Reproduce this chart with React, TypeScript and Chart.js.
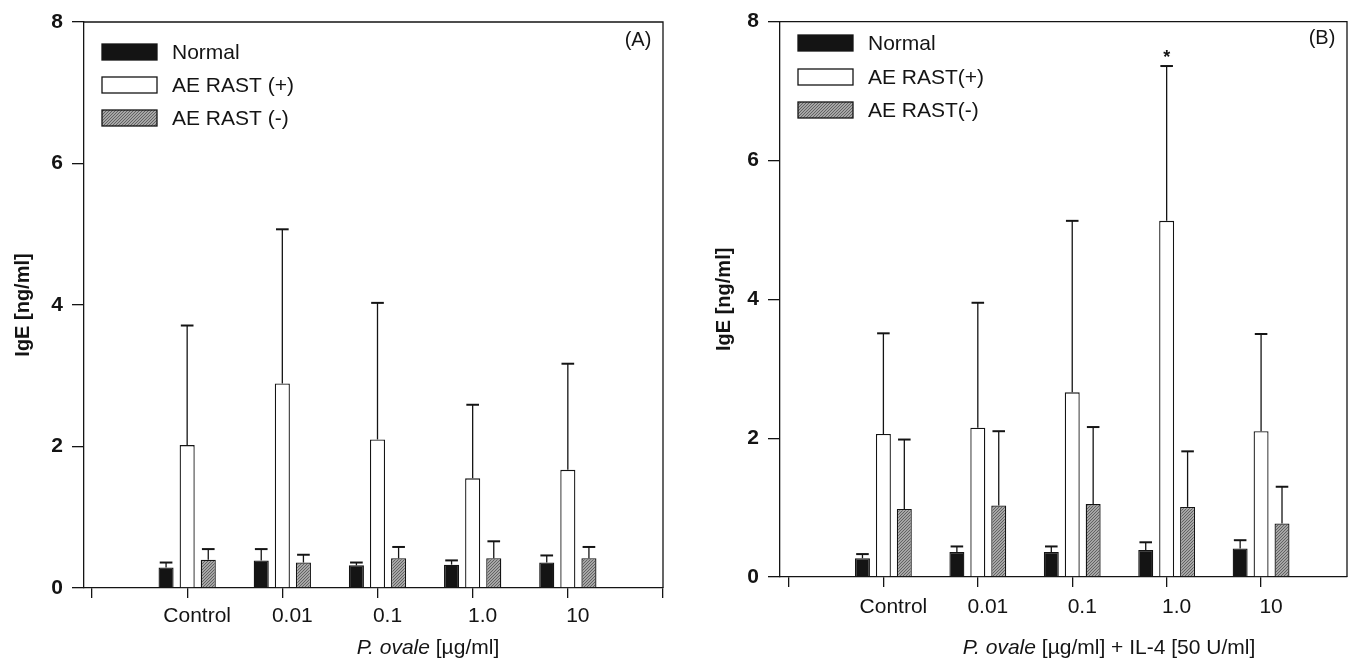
import React, { useEffect, useRef } from "react";
import { Chart, registerables } from "chart.js";

Chart.register(...registerables);

// ---------- data ----------
const categories = ["Control", "0.01", "0.1", "1.0", "10"];
const seriesNamesA = ["Normal", "AE RAST (+)", "AE RAST (-)"];
const seriesNamesB = ["Normal", "AE RAST(+)", "AE RAST(-)"];
const yTickValues = [0, 2, 4, 6, 8];

// Panel A: P. ovale alone
const aNormal = [0.29, 0.39, 0.32, 0.33, 0.36];
const aNormalSD = [0.07, 0.16, 0.04, 0.06, 0.1];
const aRastPos = [2.02, 2.89, 2.1, 1.55, 1.67];
const aRastPosSD = [1.69, 2.18, 1.93, 1.04, 1.5];
const aRastNeg = [0.4, 0.36, 0.42, 0.42, 0.42];
const aRastNegSD = [0.15, 0.11, 0.16, 0.24, 0.16];

// Panel B: P. ovale + IL-4
const bNormal = [0.27, 0.36, 0.36, 0.39, 0.41];
const bNormalSD = [0.06, 0.08, 0.08, 0.11, 0.12];
const bRastPos = [2.06, 2.15, 2.66, 5.13, 2.1];
const bRastPosSD = [1.45, 1.8, 2.47, 2.23, 1.4];
const bRastNeg = [0.98, 1.03, 1.05, 1.01, 0.77];
const bRastNegSD = [1.0, 1.07, 1.11, 0.8, 0.53];

const INK = "#141414";
const FONT = "'Liberation Sans', Arial, Helvetica, sans-serif";

function makeHatch(): CanvasPattern | string {
  const c = document.createElement("canvas");
  c.width = 3;
  c.height = 3;
  const g = c.getContext("2d");
  if (!g) return "#8c8c8c";
  g.fillStyle = "#a6a6a6";
  g.fillRect(0, 0, 3, 3);
  g.fillStyle = "#626262";
  for (let x = 0; x < 3; x++) {
    for (let y = 0; y < 3; y++) {
      if ((x + y) % 3 === 0) g.fillRect(x, y, 1, 1);
    }
  }
  const pat = g.createPattern(c, "repeat");
  return pat || "#8c8c8c";
}

type PanelCfg = {
  width: number;
  height: number;
  areaLeft: number;
  areaRight: number;
  areaTop: number;
  areaBottom: number;
  xMin: number;
  xMax: number;
  xTicks: number[];
  yTitlePad: number;
  labelPad: number;
  names: string[];
  values: number[][];
  sds: number[][];
  legendX: number;
  legendTextX: number;
  legendRows: number[];
  letter: string;
  letterX: number;
  letterY: number;
  xTitleItalic: string;
  xTitleRest: string;
  xTitleX: number;
  xTitleY: number;
  star: { dataset: number; index: number } | null;
};

function Panel({ cfg, left }: { cfg: PanelCfg; left: number }) {
  const ref = useRef<HTMLCanvasElement | null>(null);

  useEffect(() => {
    const canvas = ref.current;
    if (!canvas) return;
    const hatch = makeHatch();
    const fills = [INK, "#ffffff", hatch];
    const tickLabel = (v: number) => {
      const i = Math.round(v) - 1;
      return i >= 0 && i < categories.length ? categories[i] : "";
    };

    const decor = {
      id: "panelDecor",
      afterDatasetsDraw(chart: any) {
        const ctx = chart.ctx as CanvasRenderingContext2D;
        const area = chart.chartArea;
        const yScale = chart.scales.y;
        ctx.save();
        // error bars (upper only)
        chart.data.datasets.forEach((ds: any, di: number) => {
          const meta = chart.getDatasetMeta(di);
          meta.data.forEach((bar: any, i: number) => {
            const p = bar.getProps(["x", "y", "width"], true);
            const top = yScale.getPixelForValue(ds.data[i].y + ds.errors[i]);
            ctx.strokeStyle = INK;
            ctx.lineWidth = 1.3;
            ctx.beginPath();
            ctx.moveTo(p.x, p.y);
            ctx.lineTo(p.x, top);
            ctx.stroke();
            ctx.lineWidth = 2;
            ctx.beginPath();
            ctx.moveTo(p.x - p.width * 0.42, top);
            ctx.lineTo(p.x + p.width * 0.42, top);
            ctx.stroke();
          });
        });
        // frame: top and right
        ctx.strokeStyle = INK;
        ctx.lineWidth = 1.3;
        ctx.beginPath();
        ctx.moveTo(area.left, area.top);
        ctx.lineTo(area.right, area.top);
        ctx.lineTo(area.right, area.bottom);
        ctx.stroke();
        // legend
        ctx.font = `21px ${FONT}`;
        ctx.textBaseline = "middle";
        ctx.textAlign = "left";
        chart.data.datasets.forEach((ds: any, di: number) => {
          const cy = cfg.legendRows[di];
          ctx.fillStyle = ds.backgroundColor;
          ctx.fillRect(cfg.legendX, cy - 8, 55, 16);
          ctx.lineWidth = 1.3;
          ctx.strokeStyle = INK;
          ctx.strokeRect(cfg.legendX, cy - 8, 55, 16);
          ctx.fillStyle = INK;
          ctx.fillText(ds.label, cfg.legendTextX, cy + 1);
        });
        // panel letter
        ctx.font = `20px ${FONT}`;
        ctx.textAlign = "center";
        ctx.fillText(cfg.letter, cfg.letterX, cfg.letterY);
        // significance star
        if (cfg.star) {
          const ds = chart.data.datasets[cfg.star.dataset];
          const bar = chart.getDatasetMeta(cfg.star.dataset).data[cfg.star.index];
          const v = ds.data[cfg.star.index].y + ds.errors[cfg.star.index];
          const yTop = yScale.getPixelForValue(v);
          ctx.font = `bold 18px ${FONT}`;
          ctx.fillText("*", bar.x, yTop - 8);
        }
        // x-axis title (italic species name + plain rest)
        ctx.textAlign = "left";
        const fI = `italic 21px ${FONT}`;
        const fN = `21px ${FONT}`;
        ctx.font = fI;
        const w1 = ctx.measureText(cfg.xTitleItalic).width;
        ctx.font = fN;
        const w2 = ctx.measureText(cfg.xTitleRest).width;
        const x0 = cfg.xTitleX - (w1 + w2) / 2;
        ctx.font = fI;
        ctx.fillText(cfg.xTitleItalic, x0, cfg.xTitleY);
        ctx.font = fN;
        ctx.fillText(cfg.xTitleRest, x0 + w1, cfg.xTitleY);
        ctx.restore();
      },
    };

    const chart = new Chart(canvas, {
      type: "bar",
      data: {
        datasets: cfg.names.map((name, si) => ({
          label: name,
          data: cfg.values[si].map((v, i) => ({ x: i + 1, y: v })),
          errors: cfg.sds[si],
          backgroundColor: fills[si],
          borderColor: INK,
          borderWidth: 1.3,
          categoryPercentage: 0.665,
          barPercentage: 0.715,
        })) as any,
      },
      options: {
        responsive: false,
        animation: false,
        devicePixelRatio: 1,
        layout: {
          padding: {
            left: 0,
            right: cfg.width - cfg.areaRight,
            top: cfg.areaTop,
            bottom: 0,
          },
        },
        plugins: {
          legend: { display: false },
          tooltip: { enabled: false },
        },
        scales: {
          x: {
            type: "linear",
            min: cfg.xMin,
            max: cfg.xMax,
            offset: false,
            afterBuildTicks: (s: any) => {
              s.ticks = cfg.xTicks.map((v) => ({ value: v }));
            },
            afterFit: (s: any) => {
              s.height = cfg.height - cfg.areaBottom;
            },
            grid: {
              drawOnChartArea: false,
              drawTicks: true,
              tickLength: 10,
              color: INK,
              lineWidth: 1.3,
              offset: false,
            },
            border: { display: true, color: INK, width: 1.3 },
            ticks: {
              callback: (v: any) => tickLabel(Number(v)),
              color: INK,
              font: { family: FONT, size: 21 },
              padding: cfg.labelPad,
              labelOffset: 10,
              maxRotation: 0,
              autoSkip: false,
            },
          },
          y: {
            type: "linear",
            min: 0,
            max: 8,
            afterBuildTicks: (s: any) => {
              s.ticks = yTickValues.map((v) => ({ value: v }));
            },
            afterFit: (s: any) => {
              s.width = cfg.areaLeft;
            },
            grid: {
              drawOnChartArea: false,
              drawTicks: true,
              tickLength: 12,
              color: INK,
              lineWidth: 1.3,
            },
            border: { display: true, color: INK, width: 1.3 },
            ticks: {
              color: INK,
              font: { family: FONT, size: 21, weight: "bold" },
              padding: 9,
            },
            title: {
              display: true,
              text: "IgE [ng/ml]",
              color: INK,
              font: { family: FONT, size: 20, weight: "bold" },
              padding: { top: cfg.yTitlePad, bottom: 0 },
            },
          },
        },
      } as any,
      plugins: [decor as any],
    });
    return () => chart.destroy();
  }, [cfg]);

  return (
    <canvas
      ref={ref}
      width={cfg.width}
      height={cfg.height}
      style={{
        position: "absolute",
        left,
        top: 0,
        width: cfg.width,
        height: cfg.height,
      }}
    />
  );
}

const cfgA: PanelCfg = {
  width: 680,
  height: 659,
  areaLeft: 84,
  areaRight: 663,
  areaTop: 22,
  areaBottom: 588,
  xMin: -0.084,
  xMax: 6,
  xTicks: [0, 1, 2, 3, 4, 5, 6],
  yTitlePad: 11,
  labelPad: 6,
  names: seriesNamesA,
  values: [aNormal, aRastPos, aRastNeg],
  sds: [aNormalSD, aRastPosSD, aRastNegSD],
  legendX: 102,
  legendTextX: 172,
  legendRows: [52, 85, 118],
  letter: "(A)",
  letterX: 638,
  letterY: 40,
  xTitleItalic: "P. ovale",
  xTitleRest: " [µg/ml]",
  xTitleX: 428,
  xTitleY: 648,
  star: null,
};

const cfgB: PanelCfg = {
  width: 671,
  height: 659,
  areaLeft: 100,
  areaRight: 667,
  areaTop: 20,
  areaBottom: 577,
  xMin: -0.095,
  xMax: 5.91,
  xTicks: [0, 1, 2, 3, 4, 5],
  yTitlePad: 32,
  labelPad: 8,
  names: seriesNamesB,
  values: [bNormal, bRastPos, bRastNeg],
  sds: [bNormalSD, bRastPosSD, bRastNegSD],
  legendX: 118,
  legendTextX: 188,
  legendRows: [43, 77, 110],
  letter: "(B)",
  letterX: 642,
  letterY: 38,
  xTitleItalic: "P. ovale",
  xTitleRest: " [µg/ml] + IL-4 [50 U/ml]",
  xTitleX: 429,
  xTitleY: 648,
  star: { dataset: 1, index: 3 },
};

export default function App() {
  return (
    <div
      style={{
        position: "fixed",
        left: 0,
        top: 0,
        width: 1351,
        height: 659,
        background: "#ffffff",
        overflow: "hidden",
      }}
    >
      <Panel cfg={cfgA} left={0} />
      <Panel cfg={cfgB} left={680} />
    </div>
  );
}
